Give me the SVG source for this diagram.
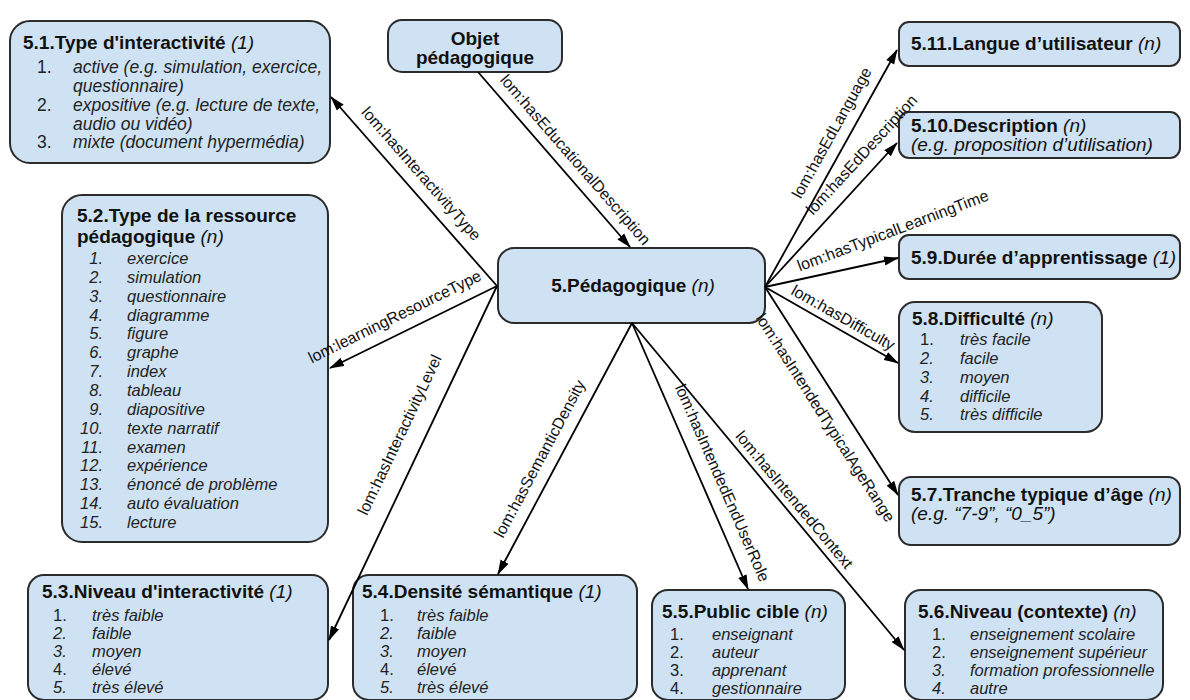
<svg xmlns="http://www.w3.org/2000/svg" width="1190" height="700" viewBox="0 0 1190 700">
<style>
.box{fill:#cfe2f3;stroke:#2b2b2b;stroke-width:2}
text{font-family:"Liberation Sans",Arial,sans-serif;fill:#111}
.t{font-weight:bold;font-size:19px}
.n{font-weight:normal;font-style:italic}
.sub{font-size:19px;font-style:italic}
.it{font-size:16.5px;font-style:italic;fill:#222}
.num{font-size:16.5px;fill:#222}
.ni{font-size:16.5px;font-style:italic;fill:#222}
.big{font-size:17.5px}
.r{text-anchor:end}
.c{text-anchor:middle}
.lbl{font-size:16px;text-anchor:middle;fill:#111}
.edge{stroke:#000;stroke-width:1.8;fill:none;marker-end:url(#arr)}
</style>
<defs>
<marker id="arr" markerUnits="userSpaceOnUse" markerWidth="15" markerHeight="10" refX="14" refY="5" orient="auto">
<path d="M0,0.5 L15,5 L0,9.5 z" fill="#000"/>
</marker>
</defs>
<rect width="1190" height="700" fill="#fff"/>

<g id="objet">
<rect class="box" x="388" y="20" width="174" height="52" rx="14"/>
<text class="t c" x="475" y="45">Objet</text>
<text class="t c" x="475" y="64">pédagogique</text>
</g>

<g id="n5">
<rect class="box" x="498" y="248" width="267" height="75" rx="16"/>
<text class="t c" x="633" y="292">5.Pédagogique <tspan class="n">(n)</tspan></text>
</g>

<g id="n51">
<rect class="box" x="10" y="21" width="320" height="142" rx="20"/>
<text class="t" x="23" y="49">5.1.Type d'interactivité <tspan class="n">(1)</tspan></text>
<text class="num big" x="37" y="73">1.</text><text class="it big" x="73" y="73">active (e.g. simulation, exercice,</text>
<text class="it big" x="73" y="92">questionnaire)</text>
<text class="num big" x="37" y="111">2.</text><text class="it big" x="73" y="111">expositive (e.g. lecture de texte,</text>
<text class="it big" x="73" y="130">audio ou vidéo)</text>
<text class="num big" x="37" y="148">3.</text><text class="it big" x="73" y="148">mixte (document hypermédia)</text>
</g>

<g id="n52">
<rect class="box" x="62" y="195" width="266" height="347" rx="20"/>
<text class="t" x="77" y="222">5.2.Type de la ressource</text>
<text class="t" x="77" y="243">pédagogique <tspan class="n">(n)</tspan></text>
<text class="ni r" x="103" y="264">1.</text><text class="it" x="127" y="264">exercice</text>
<text class="ni r" x="103" y="282.9">2.</text><text class="it" x="127" y="282.9">simulation</text>
<text class="ni r" x="103" y="301.7">3.</text><text class="it" x="127" y="301.7">questionnaire</text>
<text class="ni r" x="103" y="320.6">4.</text><text class="it" x="127" y="320.6">diagramme</text>
<text class="ni r" x="103" y="339.4">5.</text><text class="it" x="127" y="339.4">figure</text>
<text class="ni r" x="103" y="358.3">6.</text><text class="it" x="127" y="358.3">graphe</text>
<text class="ni r" x="103" y="377.1">7.</text><text class="it" x="127" y="377.1">index</text>
<text class="ni r" x="103" y="396">8.</text><text class="it" x="127" y="396">tableau</text>
<text class="ni r" x="103" y="414.8">9.</text><text class="it" x="127" y="414.8">diapositive</text>
<text class="ni r" x="103" y="433.7">10.</text><text class="it" x="127" y="433.7">texte narratif</text>
<text class="ni r" x="103" y="452.5">11.</text><text class="it" x="127" y="452.5">examen</text>
<text class="ni r" x="103" y="471.4">12.</text><text class="it" x="127" y="471.4">expérience</text>
<text class="ni r" x="103" y="490.2">13.</text><text class="it" x="127" y="490.2">énoncé de problème</text>
<text class="ni r" x="103" y="509.1">14.</text><text class="it" x="127" y="509.1">auto évaluation</text>
<text class="ni r" x="103" y="528">15.</text><text class="it" x="127" y="528">lecture</text>
</g>

<g id="n53">
<rect class="box" x="28" y="575" width="300" height="125" rx="16"/>
<text class="t" x="42" y="598">5.3.Niveau d'interactivité <tspan class="n">(1)</tspan></text>
<text class="num" x="53" y="621">1.</text><text class="it" x="92" y="621">très faible</text>
<text class="ni" x="53" y="639">2.</text><text class="it" x="92" y="639">faible</text>
<text class="ni" x="53" y="657">3.</text><text class="it" x="92" y="657">moyen</text>
<text class="num" x="53" y="675">4.</text><text class="it" x="92" y="675">élevé</text>
<text class="ni" x="53" y="693">5.</text><text class="it" x="92" y="693">très élevé</text>
</g>

<g id="n54">
<rect class="box" x="353" y="575" width="284" height="125" rx="16"/>
<text class="t" x="362" y="598">5.4.Densité sémantique <tspan class="n">(1)</tspan></text>
<text class="num" x="380" y="621">1.</text><text class="it" x="417" y="621">très faible</text>
<text class="ni" x="380" y="639">2.</text><text class="it" x="417" y="639">faible</text>
<text class="ni" x="380" y="657">3.</text><text class="it" x="417" y="657">moyen</text>
<text class="num" x="380" y="675">4.</text><text class="it" x="417" y="675">élevé</text>
<text class="ni" x="380" y="693">5.</text><text class="it" x="417" y="693">très élevé</text>
</g>

<g id="n55">
<rect class="box" x="652" y="590" width="193" height="110" rx="16"/>
<text class="t" x="662" y="618">5.5.Public cible <tspan class="n">(n)</tspan></text>
<text class="num" x="670" y="640">1.</text><text class="it" x="712" y="640">enseignant</text>
<text class="num" x="670" y="658">2.</text><text class="it" x="712" y="658">auteur</text>
<text class="num" x="670" y="676">3.</text><text class="it" x="712" y="676">apprenant</text>
<text class="num" x="670" y="694">4.</text><text class="it" x="712" y="694">gestionnaire</text>
</g>

<g id="n56">
<rect class="box" x="905" y="590" width="258" height="110" rx="16"/>
<text class="t" x="918" y="618">5.6.Niveau (contexte) <tspan class="n">(n)</tspan></text>
<text class="num" x="932" y="640">1.</text><text class="it" x="970" y="640">enseignement scolaire</text>
<text class="num" x="932" y="658">2.</text><text class="it" x="970" y="658">enseignement supérieur</text>
<text class="ni" x="932" y="676">3.</text><text class="it" x="970" y="676">formation professionnelle</text>
<text class="ni" x="932" y="694">4.</text><text class="it" x="970" y="694">autre</text>
</g>

<g id="n57">
<rect class="box" x="899" y="477" width="281" height="68" rx="12"/>
<text class="t" x="911" y="501">5.7.Tranche typique d’âge <tspan class="n">(n)</tspan></text>
<text class="sub" x="911" y="520">(e.g. “7-9”, “0_5”)</text>
</g>

<g id="n58">
<rect class="box" x="899" y="302" width="203" height="130" rx="16"/>
<text class="t" x="912" y="325">5.8.Difficulté <tspan class="n">(n)</tspan></text>
<text class="num" x="920" y="345">1.</text><text class="it" x="960" y="345">très facile</text>
<text class="ni" x="920" y="364">2.</text><text class="it" x="960" y="364">facile</text>
<text class="ni" x="920" y="383">3.</text><text class="it" x="960" y="383">moyen</text>
<text class="ni" x="920" y="402">4.</text><text class="it" x="960" y="402">difficile</text>
<text class="ni" x="920" y="420">5.</text><text class="it" x="960" y="420">très difficile</text>
</g>

<g id="n59">
<rect class="box" x="899" y="235" width="281" height="44" rx="10"/>
<text class="t" x="911" y="264">5.9.Durée d’apprentissage <tspan class="n">(1)</tspan></text>
</g>

<g id="n510">
<rect class="box" x="899" y="112" width="281" height="46" rx="10"/>
<text class="t" x="911" y="132">5.10.Description <tspan class="n">(n)</tspan></text>
<text class="sub" x="911" y="151">(e.g. proposition d’utilisation)</text>
</g>

<g id="n511">
<rect class="box" x="899" y="22" width="281" height="44" rx="10"/>
<text class="t" x="911" y="50">5.11.Langue d’utilisateur <tspan class="n">(n)</tspan></text>
</g>

<g id="connectors">
<line class="edge" x1="478" y1="72" x2="630" y2="247"/>
<line class="edge" x1="497" y1="286" x2="331" y2="97"/>
<line class="edge" x1="497" y1="286" x2="330" y2="368"/>
<line class="edge" x1="497" y1="286" x2="329" y2="640"/>
<line class="edge" x1="632" y1="323" x2="498" y2="574"/>
<line class="edge" x1="632" y1="323" x2="748" y2="589"/>
<line class="edge" x1="632" y1="323" x2="904" y2="650"/>
<line class="edge" x1="765" y1="287" x2="897" y2="50"/>
<line class="edge" x1="765" y1="287" x2="897" y2="143"/>
<line class="edge" x1="765" y1="287" x2="898" y2="258"/>
<line class="edge" x1="765" y1="287" x2="898" y2="363"/>
<line class="edge" x1="765" y1="287" x2="898" y2="495"/>
<text class="lbl" transform="translate(575,160) rotate(49)" dy="5">lom:hasEducationalDescription</text>
<text class="lbl" transform="translate(421,174) rotate(48.7)" dy="5">lom:hasInteractivityType</text>
<text class="lbl" transform="translate(395,317) rotate(-26.2)" dy="5">lom:learningResourceType</text>
<text class="lbl" transform="translate(400,435) rotate(-64.6)" dy="5">lom:hasInteractivityLevel</text>
<text class="lbl" transform="translate(540,459) rotate(-61.9)" dy="5">lom:hasSemanticDensity</text>
<text class="lbl" transform="translate(722,483) rotate(66.4)" dy="5">lom:hasIntendedEndUserRole</text>
<text class="lbl" transform="translate(794,500) rotate(50.2)" dy="5">lom:hasIntendedContext</text>
<text class="lbl" transform="translate(832,133) rotate(-60.9)" dy="5">lom:hasEdLanguage</text>
<text class="lbl" transform="translate(862,155) rotate(-47.5)" dy="5">lom:hasEdDescription</text>
<text class="lbl" transform="translate(893,231) rotate(-20.7)" dy="5">lom:hasTypicalLearningTime</text>
<text class="lbl" transform="translate(843,318) rotate(29.6)" dy="5">lom:hasDifficulty</text>
<text class="lbl" transform="translate(825,418) rotate(57.4)" dy="5">lom:hasIntendedTypicalAgeRange</text>
</g>
</svg>
